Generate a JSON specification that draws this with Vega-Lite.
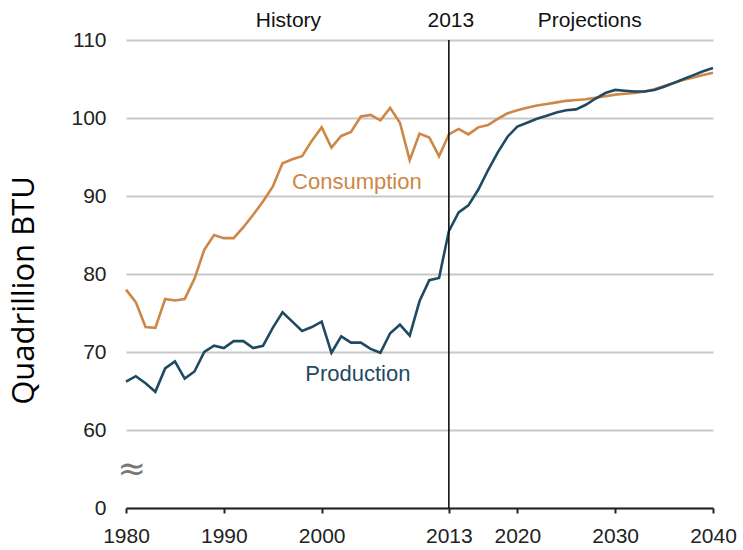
{
  "$schema": "https://vega.github.io/schema/vega-lite/v6.json",
  "autosize": "none",
  "width": 587,
  "height": 468,
  "padding": {"left": 126, "top": 40, "right": 30, "bottom": 42},
  "background": "white",
  "config": {"view": {"stroke": null}},
  "datasets": {
    "series": [
      {"year": 1980, "series": "Consumption", "value": 78.0},
      {"year": 1981, "series": "Consumption", "value": 76.4},
      {"year": 1982, "series": "Consumption", "value": 73.2},
      {"year": 1983, "series": "Consumption", "value": 73.1},
      {"year": 1984, "series": "Consumption", "value": 76.8},
      {"year": 1985, "series": "Consumption", "value": 76.6},
      {"year": 1986, "series": "Consumption", "value": 76.8},
      {"year": 1987, "series": "Consumption", "value": 79.4},
      {"year": 1988, "series": "Consumption", "value": 83.1},
      {"year": 1989, "series": "Consumption", "value": 85.0},
      {"year": 1990, "series": "Consumption", "value": 84.6},
      {"year": 1991, "series": "Consumption", "value": 84.6},
      {"year": 1992, "series": "Consumption", "value": 86.0},
      {"year": 1993, "series": "Consumption", "value": 87.6},
      {"year": 1994, "series": "Consumption", "value": 89.3},
      {"year": 1995, "series": "Consumption", "value": 91.2},
      {"year": 1996, "series": "Consumption", "value": 94.2},
      {"year": 1997, "series": "Consumption", "value": 94.7},
      {"year": 1998, "series": "Consumption", "value": 95.1},
      {"year": 1999, "series": "Consumption", "value": 97.1},
      {"year": 2000, "series": "Consumption", "value": 98.8},
      {"year": 2001, "series": "Consumption", "value": 96.2},
      {"year": 2002, "series": "Consumption", "value": 97.7},
      {"year": 2003, "series": "Consumption", "value": 98.2},
      {"year": 2004, "series": "Consumption", "value": 100.2},
      {"year": 2005, "series": "Consumption", "value": 100.4},
      {"year": 2006, "series": "Consumption", "value": 99.7},
      {"year": 2007, "series": "Consumption", "value": 101.3},
      {"year": 2008, "series": "Consumption", "value": 99.4},
      {"year": 2009, "series": "Consumption", "value": 94.6},
      {"year": 2010, "series": "Consumption", "value": 98.0},
      {"year": 2011, "series": "Consumption", "value": 97.5},
      {"year": 2012, "series": "Consumption", "value": 95.1},
      {"year": 2013, "series": "Consumption", "value": 97.9},
      {"year": 2014, "series": "Consumption", "value": 98.6},
      {"year": 2015, "series": "Consumption", "value": 97.9},
      {"year": 2016, "series": "Consumption", "value": 98.8},
      {"year": 2017, "series": "Consumption", "value": 99.1},
      {"year": 2018, "series": "Consumption", "value": 99.9},
      {"year": 2019, "series": "Consumption", "value": 100.6},
      {"year": 2020, "series": "Consumption", "value": 101.0},
      {"year": 2021, "series": "Consumption", "value": 101.3},
      {"year": 2022, "series": "Consumption", "value": 101.6},
      {"year": 2023, "series": "Consumption", "value": 101.8},
      {"year": 2024, "series": "Consumption", "value": 102.0},
      {"year": 2025, "series": "Consumption", "value": 102.2},
      {"year": 2026, "series": "Consumption", "value": 102.3},
      {"year": 2027, "series": "Consumption", "value": 102.4},
      {"year": 2028, "series": "Consumption", "value": 102.6},
      {"year": 2029, "series": "Consumption", "value": 102.8},
      {"year": 2030, "series": "Consumption", "value": 103.0},
      {"year": 2031, "series": "Consumption", "value": 103.1},
      {"year": 2032, "series": "Consumption", "value": 103.2},
      {"year": 2033, "series": "Consumption", "value": 103.4},
      {"year": 2034, "series": "Consumption", "value": 103.7},
      {"year": 2035, "series": "Consumption", "value": 104.1},
      {"year": 2036, "series": "Consumption", "value": 104.5},
      {"year": 2037, "series": "Consumption", "value": 104.9},
      {"year": 2038, "series": "Consumption", "value": 105.2},
      {"year": 2039, "series": "Consumption", "value": 105.5},
      {"year": 2040, "series": "Consumption", "value": 105.8},
      {"year": 1980, "series": "Production", "value": 66.2},
      {"year": 1981, "series": "Production", "value": 66.9},
      {"year": 1982, "series": "Production", "value": 66.0},
      {"year": 1983, "series": "Production", "value": 64.9},
      {"year": 1984, "series": "Production", "value": 67.9},
      {"year": 1985, "series": "Production", "value": 68.8},
      {"year": 1986, "series": "Production", "value": 66.6},
      {"year": 1987, "series": "Production", "value": 67.5},
      {"year": 1988, "series": "Production", "value": 70.0},
      {"year": 1989, "series": "Production", "value": 70.8},
      {"year": 1990, "series": "Production", "value": 70.5},
      {"year": 1991, "series": "Production", "value": 71.4},
      {"year": 1992, "series": "Production", "value": 71.4},
      {"year": 1993, "series": "Production", "value": 70.5},
      {"year": 1994, "series": "Production", "value": 70.8},
      {"year": 1995, "series": "Production", "value": 73.1},
      {"year": 1996, "series": "Production", "value": 75.1},
      {"year": 1997, "series": "Production", "value": 73.9},
      {"year": 1998, "series": "Production", "value": 72.7},
      {"year": 1999, "series": "Production", "value": 73.2},
      {"year": 2000, "series": "Production", "value": 73.9},
      {"year": 2001, "series": "Production", "value": 69.9},
      {"year": 2002, "series": "Production", "value": 72.0},
      {"year": 2003, "series": "Production", "value": 71.2},
      {"year": 2004, "series": "Production", "value": 71.2},
      {"year": 2005, "series": "Production", "value": 70.4},
      {"year": 2006, "series": "Production", "value": 69.9},
      {"year": 2007, "series": "Production", "value": 72.4},
      {"year": 2008, "series": "Production", "value": 73.5},
      {"year": 2009, "series": "Production", "value": 72.1},
      {"year": 2010, "series": "Production", "value": 76.5},
      {"year": 2011, "series": "Production", "value": 79.2},
      {"year": 2012, "series": "Production", "value": 79.5},
      {"year": 2013, "series": "Production", "value": 85.5},
      {"year": 2014, "series": "Production", "value": 87.9},
      {"year": 2015, "series": "Production", "value": 88.8},
      {"year": 2016, "series": "Production", "value": 90.8},
      {"year": 2017, "series": "Production", "value": 93.3},
      {"year": 2018, "series": "Production", "value": 95.6},
      {"year": 2019, "series": "Production", "value": 97.6},
      {"year": 2020, "series": "Production", "value": 98.9},
      {"year": 2021, "series": "Production", "value": 99.4},
      {"year": 2022, "series": "Production", "value": 99.9},
      {"year": 2023, "series": "Production", "value": 100.3},
      {"year": 2024, "series": "Production", "value": 100.7},
      {"year": 2025, "series": "Production", "value": 101.0},
      {"year": 2026, "series": "Production", "value": 101.1},
      {"year": 2027, "series": "Production", "value": 101.7},
      {"year": 2028, "series": "Production", "value": 102.5},
      {"year": 2029, "series": "Production", "value": 103.2},
      {"year": 2030, "series": "Production", "value": 103.6},
      {"year": 2031, "series": "Production", "value": 103.5},
      {"year": 2032, "series": "Production", "value": 103.4},
      {"year": 2033, "series": "Production", "value": 103.4},
      {"year": 2034, "series": "Production", "value": 103.6},
      {"year": 2035, "series": "Production", "value": 104.0},
      {"year": 2036, "series": "Production", "value": 104.5},
      {"year": 2037, "series": "Production", "value": 105.0},
      {"year": 2038, "series": "Production", "value": 105.5},
      {"year": 2039, "series": "Production", "value": 106.0},
      {"year": 2040, "series": "Production", "value": 106.4}
    ]
  },
  "layer": [
    {
      "data": {"name": "series"},
      "mark": {"type": "line", "strokeWidth": 2.6, "interpolate": "linear"},
      "encoding": {
        "x": {
          "field": "year", "type": "quantitative",
          "scale": {"domain": [1980, 2040], "nice": false, "zero": false},
          "axis": {
            "values": [1980, 1990, 2000, 2013, 2020, 2030, 2040],
            "format": "d", "title": null, "grid": false,
            "domainColor": "#222222", "domainWidth": 2,
            "tickColor": "#222222", "tickWidth": 2, "tickSize": 5,
            "labelFont": "Liberation Sans", "labelFontSize": 21, "labelColor": "#222222",
            "labelPadding": 12, "labelFlush": false
          }
        },
        "y": {
          "field": "value", "type": "quantitative",
          "scale": {"domain": [0, 60, 110], "range": [468, 390, 0], "nice": false, "zero": false},
          "axis": {
            "values": [0, 60, 70, 80, 90, 100, 110],
            "title": "Quadrillion BTU",
            "titleFont": "Open Sans", "titleFontSize": 31, "titleFontWeight": "normal", "titleColor": "#000000",
            "titleX": -102, "titleY": 250, "titleAngle": -90, "titleAlign": "center", "titleBaseline": "middle",
            "domain": false, "ticks": false,
            "grid": true, "gridColor": "#c8c8c8", "gridWidth": 2,
            "labelFont": "Liberation Sans", "labelFontSize": 21, "labelColor": "#222222",
            "labelPadding": 20
          }
        },
        "color": {
          "field": "series", "type": "nominal",
          "scale": {"domain": ["Consumption", "Production"], "range": ["#CD8746", "#1F4A62"]},
          "legend": null
        }
      }
    },
    {
      "data": {"values": [{"year": 2013, "y0": 0, "y1": 110}]},
      "mark": {"type": "rule", "color": "#111111", "strokeWidth": 1.6},
      "encoding": {
        "x": {"field": "year", "type": "quantitative"},
        "y": {"field": "y0", "type": "quantitative"},
        "y2": {"field": "y1"}
      }
    },
    {
      "data": {"values": [
        {"year": 1996.6, "value": 112.4, "label": "History"},
        {"year": 2013.2, "value": 112.4, "label": "2013"},
        {"year": 2027.4, "value": 112.4, "label": "Projections"}
      ]},
      "mark": {"type": "text", "font": "Liberation Sans", "fontSize": 21, "color": "#111111", "align": "center", "baseline": "middle"},
      "encoding": {
        "x": {"field": "year", "type": "quantitative"},
        "y": {"field": "value", "type": "quantitative"},
        "text": {"field": "label"}
      }
    },
    {
      "data": {"values": [
        {"year": 2003.6, "value": 91.8, "label": "Consumption", "series": "Consumption"},
        {"year": 2003.7, "value": 67.2, "label": "Production", "series": "Production"}
      ]},
      "mark": {"type": "text", "font": "Liberation Sans", "fontSize": 22, "align": "center", "baseline": "middle"},
      "encoding": {
        "x": {"field": "year", "type": "quantitative"},
        "y": {"field": "value", "type": "quantitative"},
        "text": {"field": "label"},
        "color": {"field": "series", "type": "nominal", "legend": null}
      }
    },
    {
      "data": {"values": [{"year": 1980.6, "value": 29, "label": "≈"}]},
      "mark": {"type": "text", "font": "DejaVu Sans", "fontSize": 34, "color": "#777777", "align": "center", "baseline": "middle"},
      "encoding": {
        "x": {"field": "year", "type": "quantitative"},
        "y": {"field": "value", "type": "quantitative"},
        "text": {"field": "label"}
      }
    }
  ]
}
